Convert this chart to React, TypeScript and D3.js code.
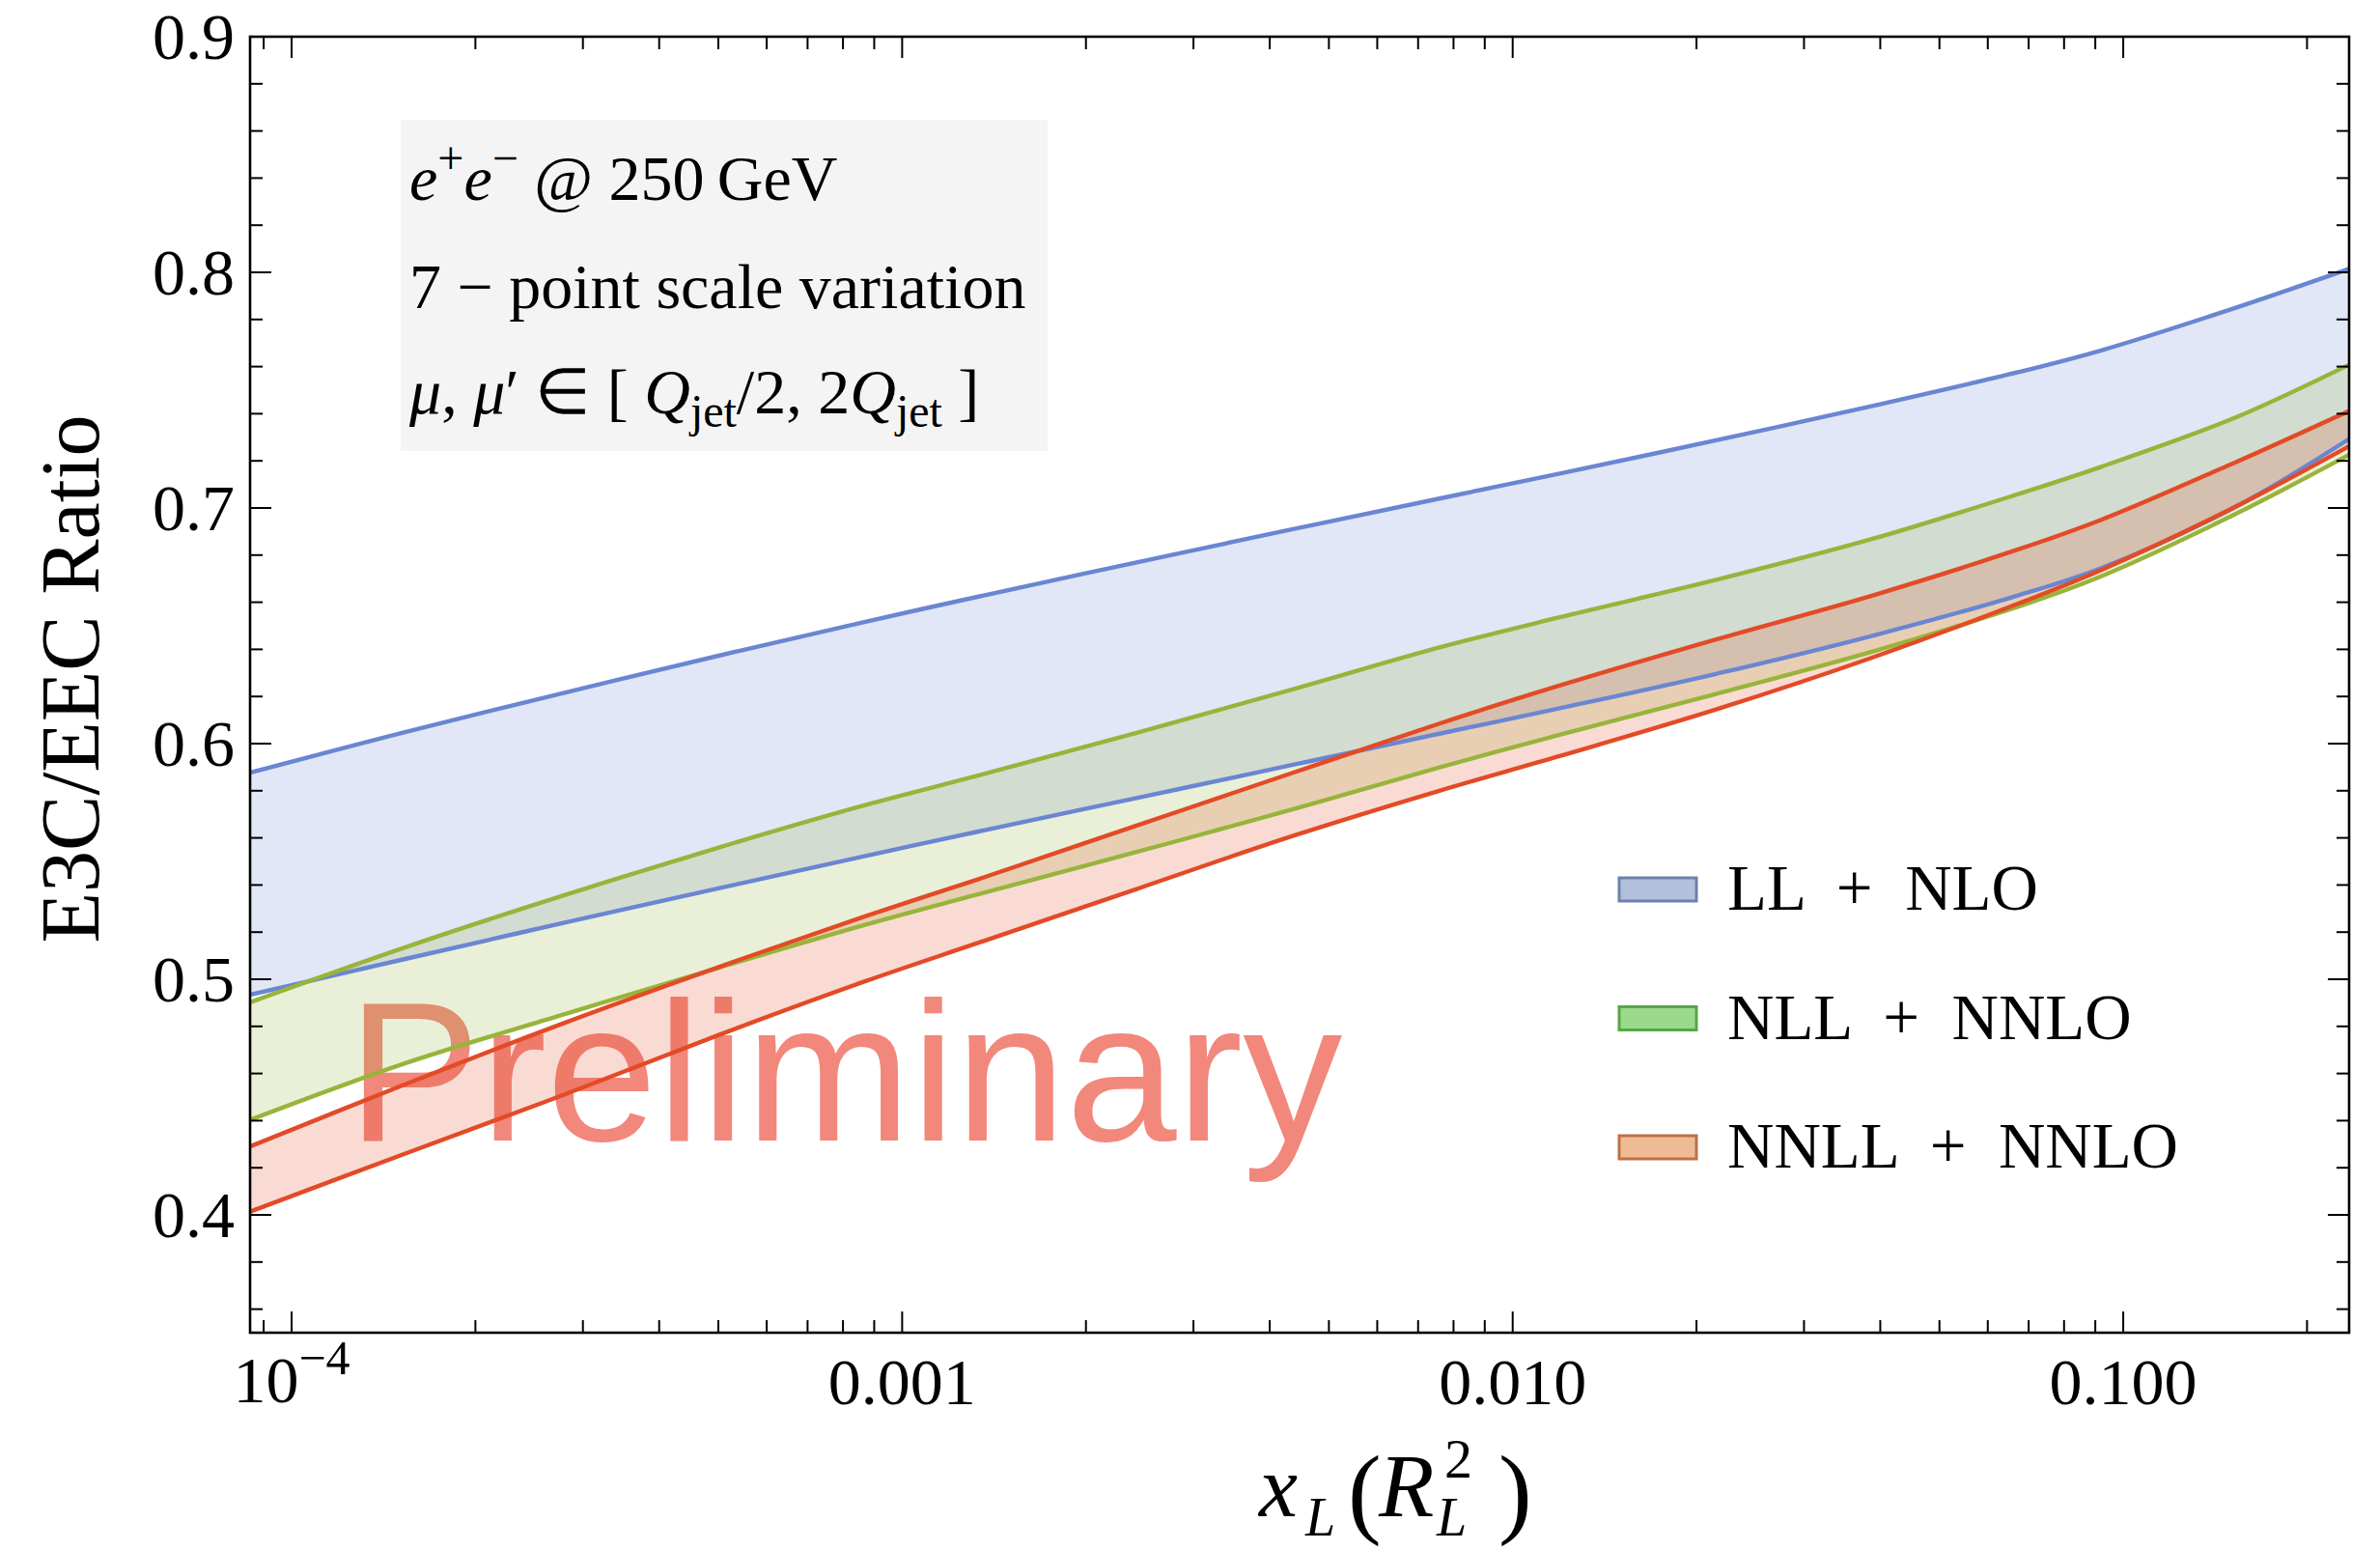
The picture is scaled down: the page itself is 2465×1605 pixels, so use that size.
import React from 'react';
import * as d3 from 'd3';

// ---------- data ----------
const xValues = [8.55e-5, 1.528e-4, 2.767e-4, 5.023e-4, 8.67e-4, 1.334e-3, 2.421e-3, 4.385e-3, 7.586e-3, 1.189e-2, 2.153e-2, 3.899e-2, 6.745e-2, 9.204e-2, 0.1521, 0.2344];

const llNloHigh = [0.5877, 0.6048, 0.6213, 0.6374, 0.6516, 0.6624, 0.6769, 0.6911, 0.704, 0.7145, 0.7287, 0.7434, 0.7577, 0.7669, 0.7848, 0.8015];
const llNloLow = [0.4934, 0.5085, 0.5237, 0.5387, 0.5522, 0.5627, 0.5769, 0.5911, 0.6042, 0.6149, 0.6296, 0.6459, 0.663, 0.6745, 0.7002, 0.7293];

const nllNnloHigh = [0.4902, 0.5134, 0.5353, 0.556, 0.5738, 0.5865, 0.6046, 0.6232, 0.6408, 0.6535, 0.6695, 0.687, 0.706, 0.7175, 0.7382, 0.7608];
const nllNnloLow = [0.4403, 0.4642, 0.4848, 0.505, 0.523, 0.5361, 0.554, 0.5723, 0.5899, 0.6036, 0.6211, 0.6392, 0.6582, 0.671, 0.6972, 0.7226];

const nnllNnloHigh = [0.429, 0.4552, 0.481, 0.5053, 0.5266, 0.5425, 0.5652, 0.5878, 0.6085, 0.6245, 0.6442, 0.663, 0.6825, 0.695, 0.7192, 0.7412];
const nnllNnloLow = [0.4014, 0.4258, 0.4506, 0.4765, 0.499, 0.5155, 0.5383, 0.561, 0.58, 0.5946, 0.6145, 0.6367, 0.6595, 0.6737, 0.7003, 0.7262];

const seriesNames = ['LL + NLO', 'NLL + NNLO', 'NNLL + NNLO'];

const yTicks = [0.4, 0.5, 0.6, 0.7, 0.8, 0.9];
const yTickLabels = ['0.4', '0.5', '0.6', '0.7', '0.8', '0.9'];
const xTicks = [1e-4, 1e-3, 1e-2, 1e-1];
const xTickLabels = ['10^-4', '0.001', '0.010', '0.100'];

const xDomain = [8.55e-5, 0.2344];
const yDomain = [0.35, 0.9];

// ---------- styling ----------
const lineColors = ['#6a86d2', '#98b43a', '#e24b26'];
const swatchFill = ['#b2c0dd', '#9bd98c', '#efbb95'];
const swatchStroke = ['#6d82a9', '#55a844', '#bf7045'];

const W = 2465;
const H = 1605;
const L = 259, T = 38, R = 2433, B = 1380;
const SERIF = '"Liberation Serif", "Times New Roman", serif';

export default function App() {
  const x = d3.scaleLog().domain(xDomain).range([L, R]);
  const y = d3.scaleLinear().domain(yDomain).range([B, T]);

  const bands = [
    { lo: llNloLow, hi: llNloHigh },
    { lo: nllNnloLow, hi: nllNnloHigh },
    { lo: nnllNnloLow, hi: nnllNnloHigh },
  ];

  const curve = d3.curveCatmullRom.alpha(0.5);

  const area = (lo: number[], hi: number[]) =>
    d3
      .area<number>()
      .x((_, i) => x(xValues[i]))
      .y0((_, i) => y(lo[i]))
      .y1((_, i) => y(hi[i]))
      .curve(curve)(xValues) as string;

  const line = (vals: number[]) =>
    d3
      .line<number>()
      .x((_, i) => x(xValues[i]))
      .y((_, i) => y(vals[i]))
      .curve(curve)(xValues) as string;

  const yMinor = d3.range(18, 45).filter((k) => k % 5 !== 0).map((k) => k / 50);
  const xMinor: number[] = [];
  for (let e = -5; e <= -1; e++) {
    for (let k = 2; k <= 9; k++) {
      const v = k * Math.pow(10, e);
      if (v >= xDomain[0] && v <= xDomain[1]) xMinor.push(v);
    }
  }

  const majLen = 22;
  const minLen = 13;

  return (
    <svg
      width={W}
      height={H}
      viewBox={`0 0 ${W} ${H}`}
      style={{ position: 'absolute', left: 0, top: 0, display: 'block', background: '#fff' }}
    >
      <rect x={0} y={0} width={W} height={H} fill="#fff" />
      <defs>
        <clipPath id="plotClip">
          <rect x={L} y={T} width={R - L} height={B - T} />
        </clipPath>
      </defs>

      {/* Preliminary watermark (under the bands) */}
      <text
        x={360}
        y={1181}
        fontFamily='"Liberation Sans", Arial, sans-serif'
        fontSize={206}
        fill="#f2877b"
      >
        Preliminary
      </text>

      <g clipPath="url(#plotClip)">
        {bands.map((b, i) => (
          <path key={'a' + i} d={area(b.lo, b.hi)} fill={lineColors[i]} fillOpacity={0.2} stroke="none" />
        ))}
        {bands.map((b, i) => (
          <g key={'l' + i}>
            <path d={line(b.hi)} fill="none" stroke={lineColors[i]} strokeWidth={4.4} />
            <path d={line(b.lo)} fill="none" stroke={lineColors[i]} strokeWidth={4.4} />
          </g>
        ))}
      </g>

      {/* frame */}
      <rect x={L} y={T} width={R - L} height={B - T} fill="none" stroke="#000" strokeWidth={2.6} />

      {/* ticks */}
      <g stroke="#000" strokeWidth={2}>
        {yTicks.map((v) => (
          <g key={'yt' + v}>
            <line x1={L} x2={L + majLen} y1={y(v)} y2={y(v)} />
            <line x1={R} x2={R - majLen} y1={y(v)} y2={y(v)} />
          </g>
        ))}
        {yMinor.map((v) => (
          <g key={'ym' + v}>
            <line x1={L} x2={L + minLen} y1={y(v)} y2={y(v)} />
            <line x1={R} x2={R - minLen} y1={y(v)} y2={y(v)} />
          </g>
        ))}
        {xTicks.map((v) => (
          <g key={'xt' + v}>
            <line x1={x(v)} x2={x(v)} y1={B} y2={B - majLen} />
            <line x1={x(v)} x2={x(v)} y1={T} y2={T + majLen} />
          </g>
        ))}
        {xMinor.map((v) => (
          <g key={'xm' + v}>
            <line x1={x(v)} x2={x(v)} y1={B} y2={B - minLen} />
            <line x1={x(v)} x2={x(v)} y1={T} y2={T + minLen} />
          </g>
        ))}
      </g>

      {/* y tick labels */}
      <g fontFamily={SERIF} fontSize={68} fill="#000">
        {yTicks.map((v, i) => (
          <text key={'yl' + v} x={243} y={y(v) + 23} textAnchor="end">
            {yTickLabels[i]}
          </text>
        ))}
      </g>

      {/* x tick labels */}
      <g fontFamily={SERIF} fontSize={68} fill="#000">
        {xTicks.map((v, i) => {
          const lab = xTickLabels[i];
          if (lab.startsWith('10^')) {
            const exp = lab.slice(3).replace('-', '\u2212');
            return (
              <text key={'xl' + v} x={x(v)} y={1452} textAnchor="middle">
                <tspan>10</tspan>
                <tspan fontSize={50} dy={-29}>{exp}</tspan>
              </text>
            );
          }
          return (
            <text key={'xl' + v} x={x(v)} y={1454} textAnchor="middle">
              {lab}
            </text>
          );
        })}
      </g>

      {/* axis labels */}
      <text
        transform="translate(102,703) rotate(-90)"
        textAnchor="middle"
        fontFamily={SERIF}
        fontSize={86}
        fill="#000"
      >
        E3C/EEC Ratio
      </text>

      <g fontFamily={SERIF} fill="#000">
        <text x={1304} y={1570} fontSize={90} fontStyle="italic">x</text>
        <text x={1352} y={1590} fontSize={56} fontStyle="italic">L</text>
        <text x={1396} y={1579} fontSize={104}>(</text>
        <text x={1428} y={1570} fontSize={94} fontStyle="italic">R</text>
        <text x={1496} y={1530} fontSize={58}>2</text>
        <text x={1488} y={1590} fontSize={56} fontStyle="italic">L</text>
        <text x={1552} y={1579} fontSize={104}>)</text>
      </g>

      {/* annotation box */}
      <rect x={415} y={124} width={670} height={343} fill="#f4f4f4" />
      <g fontFamily={SERIF} fontSize={66} fill="#000">
        <text x={424} y={207}>
          <tspan fontStyle="italic">e</tspan>
          <tspan fontSize={48} dy={-27}>+</tspan>
          <tspan fontStyle="italic" dy={27}>e</tspan>
          <tspan fontSize={48} dy={-27}>{'\u2212'}</tspan>
          <tspan dy={27}>{' @ 250\u2009GeV'}</tspan>
        </text>
        <text x={424} y={319}>
          {'7 \u2212 point scale variation'}
        </text>
        <text x={424} y={428}>
          <tspan fontStyle="italic">{'\u03bc'}</tspan>
          <tspan>{', '}</tspan>
          <tspan fontStyle="italic">{'\u03bc'}</tspan>
          <tspan>{'\u2032 \u2208 [ '}</tspan>
          <tspan fontStyle="italic">Q</tspan>
          <tspan fontSize={48} dy={14}>jet</tspan>
          <tspan dy={-14}>{'/2, 2'}</tspan>
          <tspan fontStyle="italic">Q</tspan>
          <tspan fontSize={48} dy={14}>jet</tspan>
          <tspan dy={-14}>{' ]'}</tspan>
        </text>
      </g>

      {/* legend */}
      <g fontFamily={SERIF} fontSize={67} fill="#000">
        {seriesNames.map((name, i) => {
          const cy = 921 + i * 133.5;
          return (
            <g key={'lg' + i}>
              <rect
                x={1677}
                y={cy - 12}
                width={80}
                height={24}
                fill={swatchFill[i]}
                stroke={swatchStroke[i]}
                strokeWidth={3}
              />
              <text x={1789} y={cy + 21} style={{ whiteSpace: 'pre' }}>
                {name.replace(' + ', '  +  ')}
              </text>
            </g>
          );
        })}
      </g>
    </svg>
  );
}
